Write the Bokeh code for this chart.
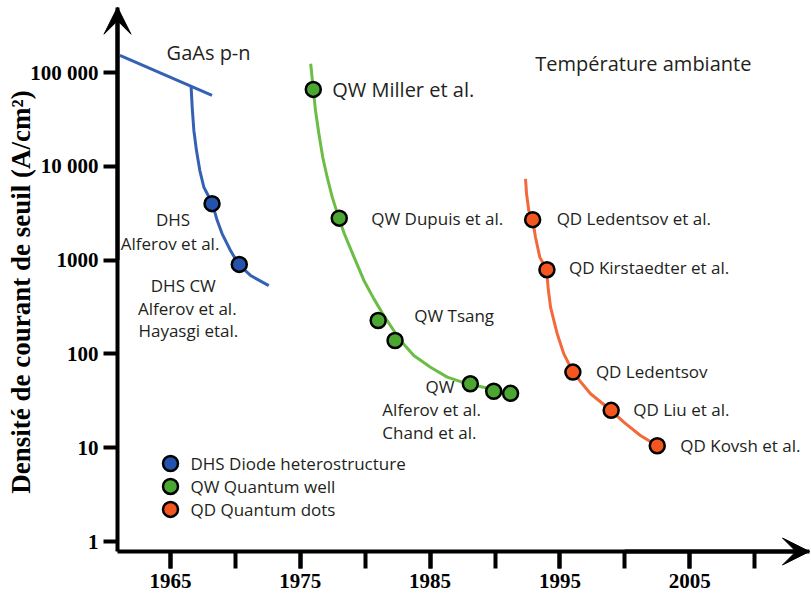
import math
from bokeh.plotting import figure
from bokeh.models import FixedTicker, Arrow, VeeHead, ColumnDataSource, Range1d, Label
from bokeh.core.properties import value
from bokeh.embed import file_html
from bokeh.resources import INLINE

# ---------------- data ----------------
dhs_years = [1968.2, 1970.3]
dhs_vals = [4000, 900]
qw_years = [1976.0, 1978.0, 1981.0, 1982.3, 1988.1, 1989.9, 1991.2]
qw_vals = [66000, 2800, 227, 139, 48, 40, 38]
qd_years = [1992.9, 1994.0, 1996.0, 1998.95, 2002.5]
qd_vals = [2700, 790, 64, 25, 10.5]

gaas_line_years = [1961.1, 1968.2]
gaas_line_vals = [152000, 57000]
dhs_curve_years = [1966.59, 1966.67, 1966.8, 1967.0, 1967.26, 1967.57, 1968.21,
                   1968.6, 1968.98, 1969.62, 1970.26, 1971.16, 1972.57]
dhs_curve_vals = [70000, 42700, 24100, 14700, 9000, 5980, 4050,
                  2640, 1905, 1265, 897, 686, 535]
qw_curve_years = [1975.8, 1976.0, 1976.17, 1976.43, 1976.73, 1977.07, 1977.46,
                  1977.97, 1978.4, 1979.05, 1979.9, 1980.67, 1981.43, 1982.72,
                  1983.74, 1985.03, 1986.32, 1987.86, 1989.65]
qw_curve_vals = [124000, 66000, 39400, 22200, 12500, 7650, 4690,
                 2800, 1900, 1150, 607, 386, 256, 139,
                 96, 72, 56.5, 48, 42.5]
qd_curve_years = [1992.35, 1992.43, 1992.6, 1992.9, 1993.12, 1993.45, 1993.97,
                  1994.1, 1994.28, 1994.79, 1995.3, 1996.02, 1996.72, 1997.36,
                  1998.95, 1999.92, 2001.2, 2002.5]
qd_curve_vals = [7360, 5100, 3380, 2700, 1750, 1075, 789,
                 494, 315, 164, 100, 63.8, 48, 37.6,
                 24.9, 18.7, 13.5, 10.5]

legend_labels = ["DHS Diode heterostructure", "QW Quantum well", "QD Quantum dots"]
x_label_years = [1965, 1975, 1985, 1995, 2005]
x_tick_years = [1965, 1970, 1975, 1980, 1985, 1990, 1995, 2000, 2005, 2010]
y_ticks = [1, 10, 100, 1000, 10000, 100000]
y_tick_labels = ["1", "10", "100", "1000", "10 000", "100 000"]
y_title = "Densité de courant de seuil (A/cm²)"

title_gaas = "GaAs p-n"
title_gaas_pos = (1964.7, 163000)
title_temp = "Température ambiante"
title_temp_pos = (1993.1, 125000)

# annotations: text, series, point index, dx(px), dy(px), align, size
annotations = [
    ("QW Miller et al.", "qw", 0, 19, 0, "left", "20px"),
    ("QW Dupuis et al.", "qw", 1, 32, 0, "left", "17px"),
    ("QW Tsang", "qw", 2, 36, -5, "left", "17px"),
    ("QW", "qw", 4, -16, 3, "right", "17px"),
    ("Alferov et al.", "qw", 4, -88, 26, "left", "17px"),
    ("Chand et al.", "qw", 4, -88, 49, "left", "17px"),
    ("QD Ledentsov et al.", "qd", 0, 24, -1, "left", "17px"),
    ("QD Kirstaedter et al.", "qd", 1, 22, -2, "left", "17px"),
    ("QD Ledentsov", "qd", 2, 23, -1, "left", "17px"),
    ("QD Liu et al.", "qd", 3, 22, -1, "left", "17px"),
    ("QD Kovsh et al.", "qd", 4, 23, 0, "left", "17px"),
    ("DHS", "dhs", 0, -39, 16, "center", "17px"),
    ("Alferov et al.", "dhs", 0, -42, 40, "center", "17px"),
    ("DHS CW", "dhs", 1, -56, 21, "center", "17px"),
    ("Alferov et al.", "dhs", 1, -52, 44, "center", "17px"),
    ("Hayasgi etal.", "dhs", 1, -51, 66, "center", "17px"),
]

# ---------------- layout / styling ----------------
BLUE_LINE, BLUE_FILL = "#3461b4", "#2353ad"
GREEN_LINE, GREEN_FILL = "#6bbd45", "#4ba732"
ORANGE_LINE, ORANGE_FILL = "#f2693a", "#f4561f"
TEXT_COL = "#231f20"
LABEL_FONT = "Open Sans"
SERIF = "Liberation Serif"

W, H = 811, 597
X0, X1 = 1951.903, 2014.383         # frame spans whole canvas
Y0, Y1 = 10 ** -0.597, 10 ** 5.7676
X_AXIS_AT = 10 ** -0.1066           # y value where the x axis is drawn
Y_AXIS_AT = 1960.917                # x value where the y axis is drawn
X_ARROW_END = 2014.23
Y_ARROW_END = 10 ** 5.696

p = figure(width=W, height=H, x_range=Range1d(X0, X1), y_range=Range1d(Y0, Y1),
           y_axis_type="log", output_backend="svg", toolbar_location=None,
           min_border_left=0, min_border_right=0, min_border_top=0,
           min_border_bottom=0)
p.grid.visible = False
p.outline_line_color = None

xa = p.xaxis[0]
ya = p.yaxis[0]
xa.fixed_location = X_AXIS_AT
ya.fixed_location = Y_AXIS_AT
xa.bounds = (Y_AXIS_AT, X_ARROW_END)
ya.bounds = (X_AXIS_AT, Y_ARROW_END)
xa.ticker = FixedTicker(ticks=x_label_years, minor_ticks=x_tick_years)
ya.ticker = FixedTicker(ticks=y_ticks, minor_ticks=[])
ya.major_label_overrides = {t: l for t, l in zip(y_ticks, y_tick_labels)}
for ax in (xa, ya):
    ax.axis_line_width = 4
    ax.axis_line_color = "black"
    ax.major_tick_line_width = 4
    ax.major_tick_line_color = "black"
    ax.minor_tick_line_width = 4
    ax.minor_tick_line_color = "black"
    ax.major_tick_in = 0
    ax.minor_tick_in = 0
    ax.major_label_text_font = SERIF
    ax.major_label_text_font_style = "bold"
    ax.major_label_text_font_size = "21px"
    ax.major_label_text_color = "black"
xa.major_tick_out = 17
xa.minor_tick_out = 17
xa.major_label_standoff = 5
ya.major_tick_out = 14
ya.major_label_standoff = 5

p.add_layout(Label(x=1953.52, y=457, text=y_title, angle=math.pi / 2,
                   text_align="center", text_baseline="middle",
                   text_font=SERIF, text_font_style="bold",
                   text_font_size="27px", text_color="black"))

# arrow heads on the axes
p.add_layout(Arrow(end=VeeHead(size=27, fill_color="black", line_color="black"),
                   x_start=Y_AXIS_AT, y_start=1000, x_end=Y_AXIS_AT, y_end=Y_ARROW_END,
                   line_color="black", line_width=4))
p.add_layout(Arrow(end=VeeHead(size=27, fill_color="black", line_color="black"),
                   x_start=2000, y_start=X_AXIS_AT, x_end=X_ARROW_END, y_end=X_AXIS_AT,
                   line_color="black", line_width=4))

# curves
p.line(gaas_line_years, gaas_line_vals, line_color=BLUE_LINE, line_width=3)
p.line(dhs_curve_years, dhs_curve_vals, line_color=BLUE_LINE, line_width=3,
       line_join="round")
p.line(qw_curve_years, qw_curve_vals, line_color=GREEN_LINE, line_width=3,
       line_join="round")
p.line(qd_curve_years, qd_curve_vals, line_color=ORANGE_LINE, line_width=3,
       line_join="round")

# points
series = {
    "dhs": (dhs_years, dhs_vals, BLUE_FILL),
    "qw": (qw_years, qw_vals, GREEN_FILL),
    "qd": (qd_years, qd_vals, ORANGE_FILL),
}
for key in ("dhs", "qw", "qd"):
    xs, ys, col = series[key]
    p.scatter(xs, ys, size=15, fill_color=col, line_color="black", line_width=2.5)

# legend (drawn with glyphs so that marker size matches)
LEG_X = 1965.0
LEG_TOP_LOG, LEG_STEP_LOG = 0.832, 0.245
leg_y = [10 ** (LEG_TOP_LOG - i * LEG_STEP_LOG) for i in range(len(legend_labels))]
leg_src = ColumnDataSource(dict(x=[LEG_X] * len(legend_labels), y=leg_y,
                                text=legend_labels,
                                color=[BLUE_FILL, GREEN_FILL, ORANGE_FILL]))
p.scatter("x", "y", source=leg_src, size=15, fill_color="color",
          line_color="black", line_width=2.5)
p.text("x", "y", text="text", source=leg_src, x_offset=20, text_align="left",
       text_baseline="middle", text_font=value(LABEL_FONT), text_font_size="17px",
       text_color=TEXT_COL)

# annotations
for align in ("left", "right", "center"):
    for size in ("17px", "20px"):
        rows = [a for a in annotations if a[5] == align and a[6] == size]
        if not rows:
            continue
        src = ColumnDataSource(dict(
            x=[series[a[1]][0][a[2]] for a in rows],
            y=[series[a[1]][1][a[2]] for a in rows],
            text=[a[0] for a in rows],
            dx=[a[3] for a in rows],
            dy=[a[4] for a in rows],
        ))
        p.text(x="x", y="y", text="text", x_offset="dx", y_offset="dy", source=src,
               text_align=align, text_baseline="middle", text_font=value(LABEL_FONT),
               text_font_size=size, text_color=TEXT_COL)

p.text(x=[title_gaas_pos[0]], y=[title_gaas_pos[1]], text=[title_gaas],
       text_align="left", text_baseline="middle", text_font=value(LABEL_FONT),
       text_font_size="20px", text_color=TEXT_COL)
p.text(x=[title_temp_pos[0]], y=[title_temp_pos[1]], text=[title_temp],
       text_align="left", text_baseline="middle", text_font=value(LABEL_FONT),
       text_font_size="20px", text_color=TEXT_COL)

open("out.html", "w").write(file_html(p, INLINE))
